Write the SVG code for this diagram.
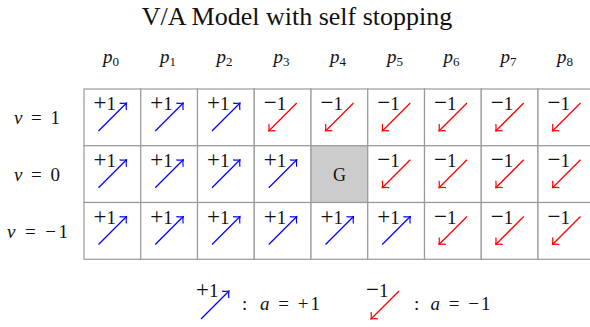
<svg xmlns="http://www.w3.org/2000/svg" width="590" height="327" viewBox="0 0 590 327">
<style>
text{font-family:"Liberation Serif","Times New Roman",serif;fill:#111}
.t{font-size:26px}
.h{font-size:19px}
.s{font-size:13px}
.i{font-style:italic}
.v{font-size:19px}
.pl{font-size:23px}
.cell{fill:#fff;stroke:#9a9a9a;stroke-width:1.2}
.g{fill:#cccccc;stroke:#9a9a9a;stroke-width:1.2}
.up{stroke:#0000ff;stroke-width:1.3;fill:none;marker-end:url(#ab)}
.dn{stroke:#ff0000;stroke-width:1.3;fill:none;marker-end:url(#ar)}
</style>
<defs>
<marker id="ab" markerWidth="14" markerHeight="14" viewBox="-7 -7 14 14" refX="0" refY="0" orient="auto" markerUnits="userSpaceOnUse" overflow="visible"><path d="M-5,-4.8 Q-2,-1.2 0,0 Q-2,1.2 -5,4.8" fill="none" stroke="#0000ff" stroke-width="1.2"/></marker>
<marker id="ar" markerWidth="14" markerHeight="14" viewBox="-7 -7 14 14" refX="0" refY="0" orient="auto" markerUnits="userSpaceOnUse" overflow="visible"><path d="M-5,-4.8 Q-2,-1.2 0,0 Q-2,1.2 -5,4.8" fill="none" stroke="#ff0000" stroke-width="1.2"/></marker>
</defs>
<text id="title" class="t" x="297" y="25" text-anchor="middle">V/A Model with self stopping</text>
<g id="col-headers" class="h">
<text x="111" y="63" text-anchor="middle"><tspan class="i">p</tspan><tspan class="s" dy="3">0</tspan></text>
<text x="168" y="63" text-anchor="middle"><tspan class="i">p</tspan><tspan class="s" dy="3">1</tspan></text>
<text x="224.5" y="63" text-anchor="middle"><tspan class="i">p</tspan><tspan class="s" dy="3">2</tspan></text>
<text x="281.5" y="63" text-anchor="middle"><tspan class="i">p</tspan><tspan class="s" dy="3">3</tspan></text>
<text x="338" y="63" text-anchor="middle"><tspan class="i">p</tspan><tspan class="s" dy="3">4</tspan></text>
<text x="395" y="63" text-anchor="middle"><tspan class="i">p</tspan><tspan class="s" dy="3">5</tspan></text>
<text x="451.5" y="63" text-anchor="middle"><tspan class="i">p</tspan><tspan class="s" dy="3">6</tspan></text>
<text x="508.5" y="63" text-anchor="middle"><tspan class="i">p</tspan><tspan class="s" dy="3">7</tspan></text>
<text x="565" y="63" text-anchor="middle"><tspan class="i">p</tspan><tspan class="s" dy="3">8</tspan></text>
</g>
<g id="row-headers" class="h">
<text x="14" y="124" textLength="46"><tspan class="i">v</tspan> = 1</text>
<text x="14" y="181" textLength="46"><tspan class="i">v</tspan> = 0</text>
<text x="7" y="238" textLength="61"><tspan class="i">v</tspan> = −1</text>
</g>
<g id="cells">
<g id="c-1-0"><rect class="cell" x="84" y="89" width="56.75" height="56.75"/><text class="v" x="116" y="110" text-anchor="end"><tspan class="pl">+</tspan>1</text><line class="up" x1="98.5" y1="131" x2="126.5" y2="103"/></g>
<g id="c-1-1"><rect class="cell" x="140.75" y="89" width="56.75" height="56.75"/><text class="v" x="172.75" y="110" text-anchor="end"><tspan class="pl">+</tspan>1</text><line class="up" x1="155.25" y1="131" x2="183.25" y2="103"/></g>
<g id="c-1-2"><rect class="cell" x="197.5" y="89" width="56.75" height="56.75"/><text class="v" x="229.5" y="110" text-anchor="end"><tspan class="pl">+</tspan>1</text><line class="up" x1="212" y1="131" x2="240" y2="103"/></g>
<g id="c-1-3"><rect class="cell" x="254.25" y="89" width="56.75" height="56.75"/><text class="v" x="286.25" y="110" text-anchor="end"><tspan class="pl">−</tspan>1</text><line class="dn" x1="296.75" y1="103" x2="268.75" y2="131"/></g>
<g id="c-1-4"><rect class="cell" x="311" y="89" width="56.75" height="56.75"/><text class="v" x="343" y="110" text-anchor="end"><tspan class="pl">−</tspan>1</text><line class="dn" x1="353.5" y1="103" x2="325.5" y2="131"/></g>
<g id="c-1-5"><rect class="cell" x="367.75" y="89" width="56.75" height="56.75"/><text class="v" x="399.75" y="110" text-anchor="end"><tspan class="pl">−</tspan>1</text><line class="dn" x1="410.25" y1="103" x2="382.25" y2="131"/></g>
<g id="c-1-6"><rect class="cell" x="424.5" y="89" width="56.75" height="56.75"/><text class="v" x="456.5" y="110" text-anchor="end"><tspan class="pl">−</tspan>1</text><line class="dn" x1="467" y1="103" x2="439" y2="131"/></g>
<g id="c-1-7"><rect class="cell" x="481.25" y="89" width="56.75" height="56.75"/><text class="v" x="513.25" y="110" text-anchor="end"><tspan class="pl">−</tspan>1</text><line class="dn" x1="523.75" y1="103" x2="495.75" y2="131"/></g>
<g id="c-1-8"><rect class="cell" x="538" y="89" width="56.75" height="56.75"/><text class="v" x="570" y="110" text-anchor="end"><tspan class="pl">−</tspan>1</text><line class="dn" x1="580.5" y1="103" x2="552.5" y2="131"/></g>
<g id="c0-0"><rect class="cell" x="84" y="145.75" width="56.75" height="56.75"/><text class="v" x="116" y="166.75" text-anchor="end"><tspan class="pl">+</tspan>1</text><line class="up" x1="98.5" y1="187.75" x2="126.5" y2="159.75"/></g>
<g id="c0-1"><rect class="cell" x="140.75" y="145.75" width="56.75" height="56.75"/><text class="v" x="172.75" y="166.75" text-anchor="end"><tspan class="pl">+</tspan>1</text><line class="up" x1="155.25" y1="187.75" x2="183.25" y2="159.75"/></g>
<g id="c0-2"><rect class="cell" x="197.5" y="145.75" width="56.75" height="56.75"/><text class="v" x="229.5" y="166.75" text-anchor="end"><tspan class="pl">+</tspan>1</text><line class="up" x1="212" y1="187.75" x2="240" y2="159.75"/></g>
<g id="c0-3"><rect class="cell" x="254.25" y="145.75" width="56.75" height="56.75"/><text class="v" x="286.25" y="166.75" text-anchor="end"><tspan class="pl">+</tspan>1</text><line class="up" x1="268.75" y1="187.75" x2="296.75" y2="159.75"/></g>
<g id="c0-4-goal"><rect class="g" x="311" y="145.75" width="56.75" height="56.75"/><text x="339.4" y="181" font-size="18" text-anchor="middle">G</text></g>
<g id="c0-5"><rect class="cell" x="367.75" y="145.75" width="56.75" height="56.75"/><text class="v" x="399.75" y="166.75" text-anchor="end"><tspan class="pl">−</tspan>1</text><line class="dn" x1="410.25" y1="159.75" x2="382.25" y2="187.75"/></g>
<g id="c0-6"><rect class="cell" x="424.5" y="145.75" width="56.75" height="56.75"/><text class="v" x="456.5" y="166.75" text-anchor="end"><tspan class="pl">−</tspan>1</text><line class="dn" x1="467" y1="159.75" x2="439" y2="187.75"/></g>
<g id="c0-7"><rect class="cell" x="481.25" y="145.75" width="56.75" height="56.75"/><text class="v" x="513.25" y="166.75" text-anchor="end"><tspan class="pl">−</tspan>1</text><line class="dn" x1="523.75" y1="159.75" x2="495.75" y2="187.75"/></g>
<g id="c0-8"><rect class="cell" x="538" y="145.75" width="56.75" height="56.75"/><text class="v" x="570" y="166.75" text-anchor="end"><tspan class="pl">−</tspan>1</text><line class="dn" x1="580.5" y1="159.75" x2="552.5" y2="187.75"/></g>
<g id="cm1-0"><rect class="cell" x="84" y="202.5" width="56.75" height="56.75"/><text class="v" x="116" y="223.5" text-anchor="end"><tspan class="pl">+</tspan>1</text><line class="up" x1="98.5" y1="244.5" x2="126.5" y2="216.5"/></g>
<g id="cm1-1"><rect class="cell" x="140.75" y="202.5" width="56.75" height="56.75"/><text class="v" x="172.75" y="223.5" text-anchor="end"><tspan class="pl">+</tspan>1</text><line class="up" x1="155.25" y1="244.5" x2="183.25" y2="216.5"/></g>
<g id="cm1-2"><rect class="cell" x="197.5" y="202.5" width="56.75" height="56.75"/><text class="v" x="229.5" y="223.5" text-anchor="end"><tspan class="pl">+</tspan>1</text><line class="up" x1="212" y1="244.5" x2="240" y2="216.5"/></g>
<g id="cm1-3"><rect class="cell" x="254.25" y="202.5" width="56.75" height="56.75"/><text class="v" x="286.25" y="223.5" text-anchor="end"><tspan class="pl">+</tspan>1</text><line class="up" x1="268.75" y1="244.5" x2="296.75" y2="216.5"/></g>
<g id="cm1-4"><rect class="cell" x="311" y="202.5" width="56.75" height="56.75"/><text class="v" x="343" y="223.5" text-anchor="end"><tspan class="pl">+</tspan>1</text><line class="up" x1="325.5" y1="244.5" x2="353.5" y2="216.5"/></g>
<g id="cm1-5"><rect class="cell" x="367.75" y="202.5" width="56.75" height="56.75"/><text class="v" x="399.75" y="223.5" text-anchor="end"><tspan class="pl">+</tspan>1</text><line class="up" x1="382.25" y1="244.5" x2="410.25" y2="216.5"/></g>
<g id="cm1-6"><rect class="cell" x="424.5" y="202.5" width="56.75" height="56.75"/><text class="v" x="456.5" y="223.5" text-anchor="end"><tspan class="pl">−</tspan>1</text><line class="dn" x1="467" y1="216.5" x2="439" y2="244.5"/></g>
<g id="cm1-7"><rect class="cell" x="481.25" y="202.5" width="56.75" height="56.75"/><text class="v" x="513.25" y="223.5" text-anchor="end"><tspan class="pl">−</tspan>1</text><line class="dn" x1="523.75" y1="216.5" x2="495.75" y2="244.5"/></g>
<g id="cm1-8"><rect class="cell" x="538" y="202.5" width="56.75" height="56.75"/><text class="v" x="570" y="223.5" text-anchor="end"><tspan class="pl">−</tspan>1</text><line class="dn" x1="580.5" y1="216.5" x2="552.5" y2="244.5"/></g>
</g>
<g id="legend">
<g id="legend-up"><text class="v" x="218.5" y="297" text-anchor="end"><tspan class="pl">+</tspan>1</text><line class="up" x1="201" y1="319" x2="229" y2="291"/><text class="h" x="242" y="310">:</text><text class="h" x="260" y="310" textLength="60"><tspan class="i">a</tspan> = +1</text></g>
<g id="legend-down"><text class="v" x="388.5" y="297" text-anchor="end"><tspan class="pl">−</tspan>1</text><line class="dn" x1="399" y1="291" x2="371" y2="319"/><text class="h" x="414" y="310">:</text><text class="h" x="430.5" y="310" textLength="60"><tspan class="i">a</tspan> = −1</text></g>
</g>
</svg>
